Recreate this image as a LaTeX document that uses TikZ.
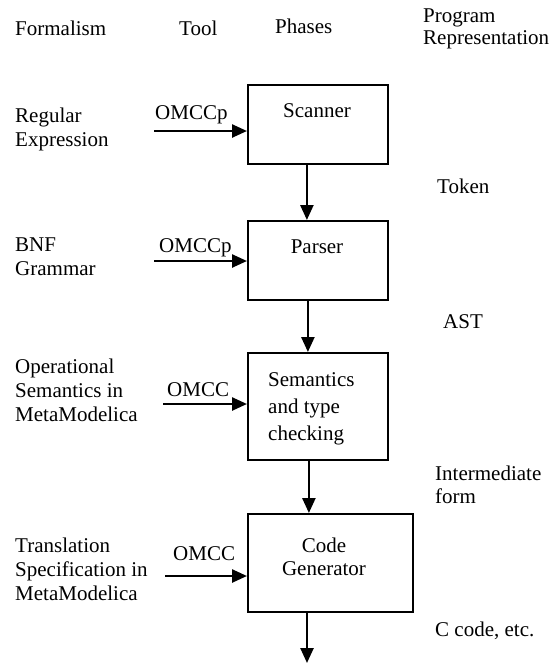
\documentclass[tikz,border=0pt]{standalone}
\usepackage{fontspec}
\setmainfont{Liberation Serif}
\usetikzlibrary{arrows.meta,positioning}
\tikzset{
  txt/.style={anchor=base west,inner sep=0pt,align=left,font=\fontsize{21}{24}\selectfont},
  phase/.style={draw=black,line width=1.8pt,rectangle,inner sep=0pt,anchor=north west},
  flow/.style={-{Triangle[length=15pt,width=13pt]},line width=2.5pt},
  semithick}

\begin{document}
\begin{tikzpicture}[x=1pt,y=-1pt]
        \useasboundingbox (0,0) rectangle (556,664);
        % column heads (base = last line)
        \node[txt] (hform) at (15,35) {Formalism};
        \node[txt] (htool) at (179,35) {Tool};
        \node[txt] (hphase) at (275,33) {Phases};
        \node[txt,font=\fontsize{21}{22}\selectfont] (hrep) at (423,44) {Program\\Representation};

        % phases
        \node[phase,minimum width=140pt,minimum height=79pt] (scan) at (247,84) {};
        \node[phase,minimum width=140pt,minimum height=79pt] (pars) at (247,220) {};
        \node[phase,minimum width=140pt,minimum height=107pt] (sema) at (247,352) {};
        \node[phase,minimum width=165pt,minimum height=98pt] (cgen) at (247,513) {};
        \node[txt,anchor=base] (scantxt) at (317,117) {Scanner};
        \node[txt,anchor=base] (parstxt) at (317,253) {Parser};
        \node[txt,font=\fontsize{21}{27}\selectfont] (sematxt) at (268,440) {Semantics\\and type\\checking};
        \node[txt,anchor=base,align=center,font=\fontsize{21}{23}\selectfont] (cgentxt) at (324,575) {Code\\Generator};

        % formalisms
        \node[txt] (regex) at (15,146) {Regular\\Expression};
        \node[txt] (bnf) at (15,275) {BNF\\Grammar};
        \node[txt] (opsem) at (15,421) {Operational\\Semantics in\\MetaModelica};
        \node[txt] (trans) at (15,600) {Translation\\Specification in\\MetaModelica};

        % tools
        \coordinate (in1) at (154,131);
        \coordinate (in2) at (154,261);
        \coordinate (in3) at (163,404);
        \coordinate (in4) at (165,576);
        \node[txt] (tool1) at (155,119) {OMCCp};
        \node[txt] (tool2) at (159,252) {OMCCp};
        \node[txt] (tool3) at (167,396) {OMCC};
        \node[txt] (tool4) at (173,560) {OMCC};
        \draw[flow] (in1) -- (in1 -| scan.west);
        \draw[flow] (in2) -- (in2 -| pars.west);
        \draw[flow] (in3) -- (in3 -| sema.west);
        \draw[flow] (in4) -- (in4 -| cgen.west);

        % representations
        \node[txt] (tok) at (437,193) {Token};
        \node[txt] (ast) at (443,328) {AST};
        \node[txt,font=\fontsize{21}{23}\selectfont] (imed) at (435,503) {Intermediate\\form};
        \node[txt] (ccode) at (435,636) {C code, etc.};

        \coordinate (out) at (307,663);
        \draw[flow] ([xshift=-11pt]scan.south) -- ([xshift=-11pt]pars.north);
        \draw[flow] ([xshift=-10pt]pars.south) -- ([xshift=-10pt]sema.north);
        \draw[flow] ([xshift=-9pt]sema.south) -- ([xshift=-9pt]sema.south |- cgen.north);
        \draw[flow] (out |- cgen.south) -- (out);
    \end{tikzpicture}
\end{document}
